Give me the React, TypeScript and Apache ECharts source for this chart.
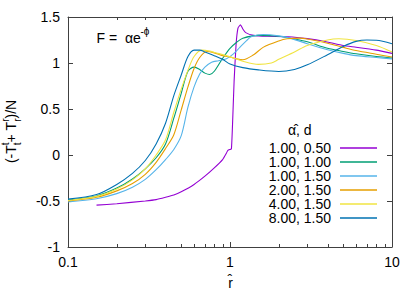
import React, { useEffect, useRef } from 'react';
import * as echarts from 'echarts';

const FONT = '"Liberation Sans", Arial, Helvetica, sans-serif';

const seriesNames = ['1.00, 0.50', '1.00, 1.00', '1.00, 1.50', '2.00, 1.50', '4.00, 1.50', '8.00, 1.50'];
const seriesColors = ['#9400d3', '#009e73', '#56b4e9', '#e69f00', '#f0e442', '#0072b2'];

// alpha = 1.00, d = 0.50
const r_a100_d050 = [0.15, 0.2, 0.3, 0.35, 0.4, 0.45, 0.5, 0.6, 0.7, 0.8, 0.9, 0.95, 0.97, 1.0, 1.02, 1.035, 1.06, 1.09, 1.12, 1.16, 1.2, 1.25, 1.4, 1.7, 2.3, 3, 3.8, 5, 6, 8, 10];
const v_a100_d050 = [-0.545, -0.53, -0.5, -0.485, -0.46, -0.435, -0.4, -0.32, -0.23, -0.14, -0.05, 0.02, 0.05, 0.06, 0.065, 0.3, 0.8, 1.2, 1.38, 1.415, 1.37, 1.33, 1.3, 1.29, 1.285, 1.265, 1.237, 1.19, 1.172, 1.14, 1.105];

// alpha = 1.00, d = 1.00
const r_a100_d100 = [0.1, 0.15, 0.2, 0.25, 0.3, 0.35, 0.4, 0.45, 0.5, 0.55, 0.6, 0.65, 0.7, 0.75, 0.8, 0.9, 1.0, 1.1, 1.2, 1.5, 2, 2.5, 3, 4, 5, 6, 8, 10];
const v_a100_d100 = [-0.49, -0.445, -0.36, -0.26, -0.15, -0.03, 0.12, 0.4, 0.67, 0.91, 0.955, 0.93, 0.89, 0.875, 0.91, 1.05, 1.16, 1.226, 1.27, 1.3, 1.29, 1.26, 1.23, 1.16, 1.125, 1.1, 1.07, 1.055];

// alpha = 1.00, d = 1.50
const r_a100_d150 = [0.1, 0.15, 0.2, 0.25, 0.3, 0.35, 0.4, 0.45, 0.5, 0.55, 0.6, 0.65, 0.7, 0.77, 0.85, 0.95, 1.05, 1.15, 1.27, 1.35, 1.6, 2, 2.4, 3, 4, 5, 6, 8, 10];
const v_a100_d150 = [-0.51, -0.475, -0.42, -0.35, -0.265, -0.16, -0.05, 0.06, 0.21, 0.52, 0.74, 0.88, 0.955, 1.009, 1.025, 1.046, 1.1, 1.17, 1.245, 1.285, 1.31, 1.295, 1.265, 1.21, 1.145, 1.105, 1.08, 1.06, 1.045];

// alpha = 2.00, d = 1.50
const r_a200_d150 = [0.1, 0.15, 0.2, 0.25, 0.3, 0.35, 0.4, 0.45, 0.5, 0.55, 0.6, 0.65, 0.72, 0.8, 0.9, 1.0, 1.1, 1.2, 1.4, 1.6, 2, 2.25, 2.7, 3, 4, 5, 6, 8, 10];
const v_a200_d150 = [-0.5, -0.46, -0.39, -0.31, -0.21, -0.08, 0.07, 0.22, 0.49, 0.74, 0.94, 1.06, 1.125, 1.11, 1.08, 1.065, 1.045, 1.035, 1.09, 1.17, 1.24, 1.263, 1.27, 1.26, 1.215, 1.17, 1.135, 1.095, 1.065];

// alpha = 4.00, d = 1.50
const r_a400_d150 = [0.1, 0.15, 0.2, 0.25, 0.3, 0.35, 0.4, 0.45, 0.5, 0.55, 0.6, 0.67, 0.75, 0.8, 0.95, 1.2, 1.5, 1.8, 2, 2.5, 3, 4, 4.7, 6, 8, 10];
const v_a400_d150 = [-0.495, -0.45, -0.37, -0.27, -0.15, 0.0, 0.165, 0.465, 0.716, 0.92, 1.07, 1.14, 1.13, 1.115, 1.08, 1.02, 0.985, 1.0, 1.04, 1.12, 1.19, 1.25, 1.263, 1.245, 1.19, 1.12];

// alpha = 8.00, d = 1.50
const r_a800_d150 = [0.1, 0.15, 0.2, 0.25, 0.3, 0.35, 0.4, 0.45, 0.5, 0.55, 0.6, 0.65, 0.7, 0.8, 0.9, 1.0, 1.2, 1.5, 2, 2.5, 3, 4, 5, 6, 7, 8, 10];
const v_a800_d150 = [-0.48, -0.43, -0.32, -0.2, -0.06, 0.12, 0.345, 0.645, 0.87, 1.07, 1.14, 1.14, 1.12, 1.08, 1.04, 0.99, 0.95, 0.925, 0.908, 0.93, 0.98, 1.09, 1.18, 1.235, 1.25, 1.248, 1.21];

const rArrays = [r_a100_d050, r_a100_d100, r_a100_d150, r_a200_d150, r_a400_d150, r_a800_d150];
const vArrays = [v_a100_d050, v_a100_d100, v_a100_d150, v_a200_d150, v_a400_d150, v_a800_d150];

const minorTickValues = [0.2, 0.3, 0.4, 0.5, 0.6, 0.7, 0.8, 0.9, 2, 3, 4, 5, 6, 7, 8, 9];

const AXIS_COLOR = '#404040';

export default function App() {
  const ref = useRef<HTMLDivElement>(null);

  useEffect(() => {
    if (!ref.current) return;
    const chart = echarts.init(ref.current, undefined, { renderer: 'svg' });

    const lineSeries = seriesNames.map((name, i) => ({
      name,
      type: 'line',
      data: rArrays[i].map((r, j) => [r, vArrays[i][j]]),
      symbol: 'none',
      showSymbol: false,
      smooth: i === 0 ? 0.15 : 0.3,
      lineStyle: { color: seriesColors[i], width: 1.1 },
      itemStyle: { color: seriesColors[i] },
      xAxisIndex: 0,
      yAxisIndex: 0,
      z: 3 + i,
    }));

    const minorTickSeries = {
      name: 'minorTicks',
      type: 'custom',
      silent: true,
      xAxisIndex: 0,
      yAxisIndex: 0,
      data: minorTickValues.map((v) => [v, 0]),
      renderItem: (params: any, api: any) => {
        const p = api.coord([api.value(0), 0]);
        const cs = params.coordSys;
        const x = Math.round(p[0]) + 0.5;
        const top = cs.y;
        const bottom = cs.y + cs.height;
        const st = { stroke: AXIS_COLOR, lineWidth: 1 };
        return {
          type: 'group',
          children: [
            { type: 'line', shape: { x1: x, y1: bottom, x2: x, y2: bottom - 3 }, style: st },
            { type: 'line', shape: { x1: x, y1: top, x2: x, y2: top + 3 }, style: st },
          ],
        };
      },
      z: 10,
    };

    const axisCommon = {
      axisLine: { show: true, onZero: false, lineStyle: { color: AXIS_COLOR, width: 1 } },
      axisTick: { show: true, inside: true, length: 5, lineStyle: { color: AXIS_COLOR, width: 1 } },
      splitLine: { show: false },
      minorTick: { show: false },
      minorSplitLine: { show: false },
    };

    const t = (text: string, x: number, y: number, size: number, align: string = 'left') => ({
      type: 'text',
      x,
      y,
      style: {
        text,
        fontSize: size,
        fontFamily: FONT,
        fill: '#000',
        textAlign: align,
        textVerticalAlign: 'middle',
      },
      silent: true,
    });

    chart.setOption({
      animation: false,
      backgroundColor: '#fff',
      grid: { left: 68, right: 25, top: 17, bottom: 45 },
      xAxis: [
        {
          type: 'log',
          logBase: 10,
          min: 0.1,
          max: 10,
          position: 'bottom',
          ...axisCommon,
          axisLabel: {
            show: true,
            margin: 8,
            fontSize: 14,
            fontFamily: FONT,
            color: '#000',
            formatter: (v: number) => `${+Number(v).toPrecision(3)}`,
          },
        },
        {
          type: 'log',
          logBase: 10,
          min: 0.1,
          max: 10,
          position: 'top',
          ...axisCommon,
          axisLabel: { show: false },
        },
      ],
      yAxis: [
        {
          type: 'value',
          min: -1,
          max: 1.5,
          interval: 0.5,
          position: 'left',
          ...axisCommon,
          axisLabel: {
            show: true,
            margin: 8,
            fontSize: 14,
            fontFamily: FONT,
            color: '#000',
          },
        },
        {
          type: 'value',
          min: -1,
          max: 1.5,
          interval: 0.5,
          position: 'right',
          ...axisCommon,
          axisLabel: { show: false },
        },
      ],
      legend: {
        data: seriesNames.map((name, i) => ({ name, itemStyle: { color: seriesColors[i], opacity: 0.75 } })),
        orient: 'vertical',
        align: 'right',
        right: 40,
        top: 141,
        padding: 0,
        icon: 'rect',
        itemWidth: 37,
        itemHeight: 2,
        itemGap: 0,
        selectedMode: false,
        textStyle: {
          fontSize: 14,
          fontFamily: FONT,
          color: '#000',
          lineHeight: 14,
          height: 14,
          padding: [0, 4, 0, 0],
        },
      },
      graphic: [
        // formula label
        t('F =  \u03b1e', 96.5, 37.5, 14),
        t('-\u03d5', 140.5, 31.5, 10),
        // legend title
        t('\u03b1\u0302, d', 288, 129.5, 14),
        // x axis title
        t('r\u0302', 230.5, 283, 14, 'center'),
        // y axis title (rotated)
        {
          type: 'group',
          x: 11,
          y: 131.5,
          rotation: Math.PI / 2,
          silent: true,
          children: [
            t('(-T', -31.6, 0, 14),
            t('t', -13.7, -6, 10),
            t('t', -13.7, 6, 10),
            t('+ T', -10.9, 0, 14),
            t('r', 9.7, -6, 10),
            t('r', 9.7, 6, 10),
            t(')/N', 13.0, 0, 14),
          ],
        },
      ],
      series: [...lineSeries, minorTickSeries],
    });

    return () => {
      chart.dispose();
    };
  }, []);

  return (
    <div
      ref={ref}
      style={{ position: 'fixed', left: 0, top: 0, width: 417, height: 292, background: '#fff' }}
    />
  );
}
